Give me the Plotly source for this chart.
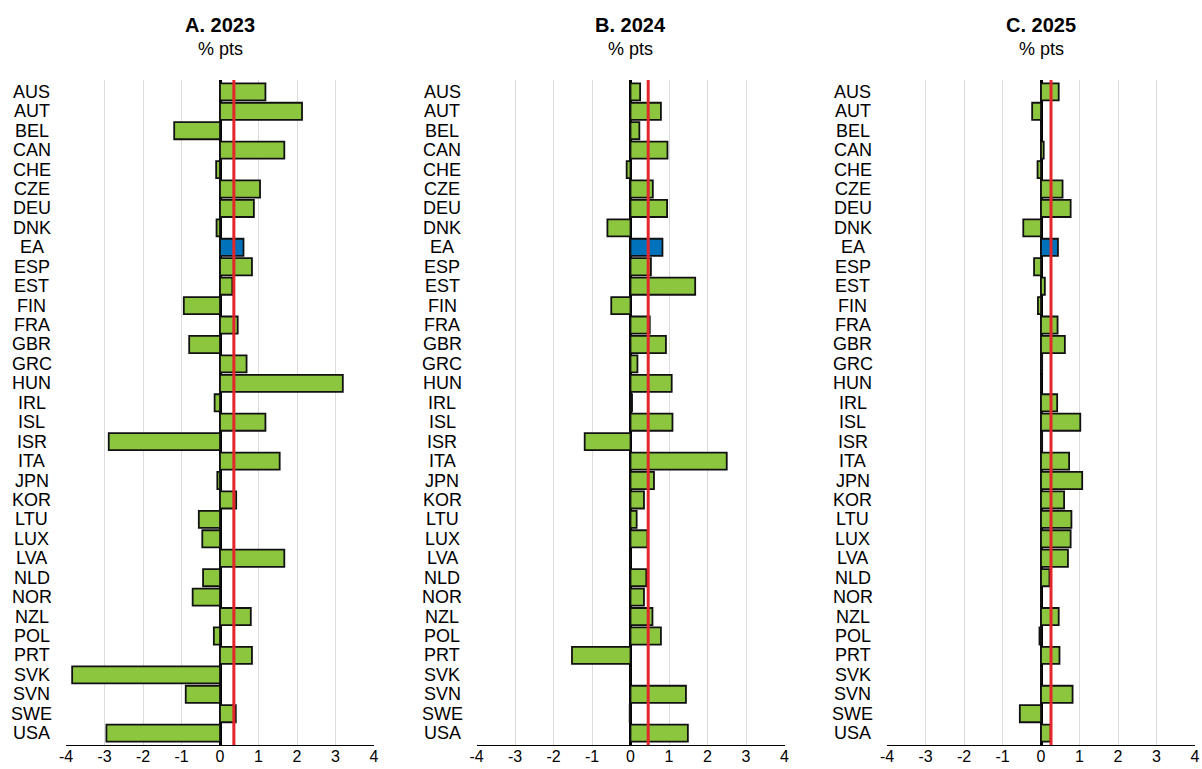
import plotly.graph_objects as go

countries = ["AUS", "AUT", "BEL", "CAN", "CHE", "CZE", "DEU", "DNK", "EA", "ESP", "EST", "FIN",
             "FRA", "GBR", "GRC", "HUN", "IRL", "ISL", "ISR", "ITA", "JPN", "KOR", "LTU", "LUX",
             "LVA", "NLD", "NOR", "NZL", "POL", "PRT", "SVK", "SVN", "SWE", "USA"]

vals_2023 = [1.18, 2.13, -1.19, 1.67, -0.10, 1.04, 0.88, -0.09, 0.61, 0.83, 0.32, -0.94,
             0.46, -0.80, 0.69, 3.19, -0.14, 1.18, -2.89, 1.55, -0.07, 0.42, -0.55, -0.46,
             1.67, -0.44, -0.71, 0.80, -0.16, 0.83, -3.84, -0.89, 0.41, -2.95]

vals_2024 = [0.25, 0.79, 0.23, 0.96, -0.10, 0.58, 0.95, -0.60, 0.83, 0.53, 1.68, -0.50,
             0.50, 0.92, 0.18, 1.07, 0.04, 1.09, -1.19, 2.50, 0.61, 0.35, 0.16, 0.44,
             0.0, 0.41, 0.35, 0.57, 0.79, -1.52, 0.0, 1.44, -0.02, 1.49]

vals_2025 = [0.46, -0.23, 0.0, 0.07, -0.09, 0.56, 0.77, -0.46, 0.44, -0.18, 0.10, -0.08,
             0.43, 0.62, 0.03, 0.0, 0.42, 1.02, 0.03, 0.73, 1.07, 0.60, 0.79, 0.77,
             0.70, 0.22, 0.0, 0.46, -0.04, 0.48, 0.0, 0.82, -0.55, 0.25]

ref_lines = [0.36, 0.46, 0.26]
panel_titles = ["A. 2023", "B. 2024", "C. 2025"]
panel_units = "% pts"
tick_vals = [-4, -3, -2, -1, 0, 1, 2, 3, 4]
tick_text = ["-4", "-3", "-2", "-1", "0", "1", "2", "3", "4"]

GREEN = "#8cc63f"
BLUE = "#0072bc"
RED = "#e2262b"
FONT = "Liberation Sans, Arial, sans-serif"

W, H = 1202, 769
x_domains_px = [(66, 374), (476.5, 784.5), (887, 1195)]
y_top_px, y_bot_px = 80, 745

fig = go.Figure()
series = [vals_2023, vals_2024, vals_2025]

for i, vals in enumerate(series):
    xa = "x" if i == 0 else f"x{i+1}"
    ya = "y" if i == 0 else f"y{i+1}"
    colors = [BLUE if c == "EA" else GREEN for c in countries]
    fig.add_trace(go.Bar(
        x=vals, y=countries, orientation="h",
        marker=dict(color=colors, line=dict(color="#111111", width=1.8)),
        width=0.88, xaxis=xa, yaxis=ya, showlegend=False,
        hoverinfo="x+y",
    ))
    d0, d1 = x_domains_px[i]
    xkey = "xaxis" if i == 0 else f"xaxis{i+1}"
    ykey = "yaxis" if i == 0 else f"yaxis{i+1}"
    fig.layout[xkey] = dict(
        domain=[d0 / W, d1 / W], anchor=ya, range=[-4, 4], automargin=False,
        tickmode="array", tickvals=tick_vals, ticktext=tick_text,
        showgrid=True, gridcolor="#dcdcdc", gridwidth=1,
        zeroline=True, zerolinecolor="black", zerolinewidth=3,
        showline=True, linecolor="black", linewidth=1.2,
        ticks="", ticklabelstandoff=-3,
        tickfont=dict(family=FONT, size=16, color="black"),
        fixedrange=True,
    )
    fig.layout[ykey] = dict(
        domain=[1 - y_bot_px / H, 1 - y_top_px / H], anchor=xa, automargin=False,
        type="category", categoryorder="array", categoryarray=countries,
        range=[33.61, -0.61], showticklabels=False, showgrid=False,
        zeroline=False, showline=False, ticks="", fixedrange=True,
    )
    fig.add_shape(type="line", xref=xa, yref=f"{ya} domain",
                  x0=ref_lines[i], x1=ref_lines[i], y0=0, y1=1,
                  line=dict(color=RED, width=3), layer="above")
    for c in countries:
        fig.add_annotation(xref=f"{xa} domain", yref=ya, x=-0.112, y=c,
                           text=c, showarrow=False, xanchor="center", yanchor="middle",
                           font=dict(family=FONT, size=18, color="black"))
    cx = (d0 + d1) / 2 / W
    fig.add_annotation(xref="paper", yref="paper", x=cx, y=1 - 25 / H,
                       text=f"<b>{panel_titles[i]}</b>", showarrow=False,
                       xanchor="center", yanchor="middle",
                       font=dict(family=FONT, size=20, color="black"))
    fig.add_annotation(xref="paper", yref="paper", x=cx, y=1 - 49 / H,
                       text=panel_units, showarrow=False,
                       xanchor="center", yanchor="middle",
                       font=dict(family=FONT, size=18, color="black"))

fig.update_layout(
    width=W, height=H, margin=dict(l=0, r=0, t=0, b=0, autoexpand=False),
    plot_bgcolor="white", paper_bgcolor="white",
    bargap=0.12, font=dict(family=FONT, color="black"),
)

fig.write_html("out.html", config={"displayModeBar": False},
               post_script="document.body.style.margin='0';document.body.style.overflow='hidden';")
